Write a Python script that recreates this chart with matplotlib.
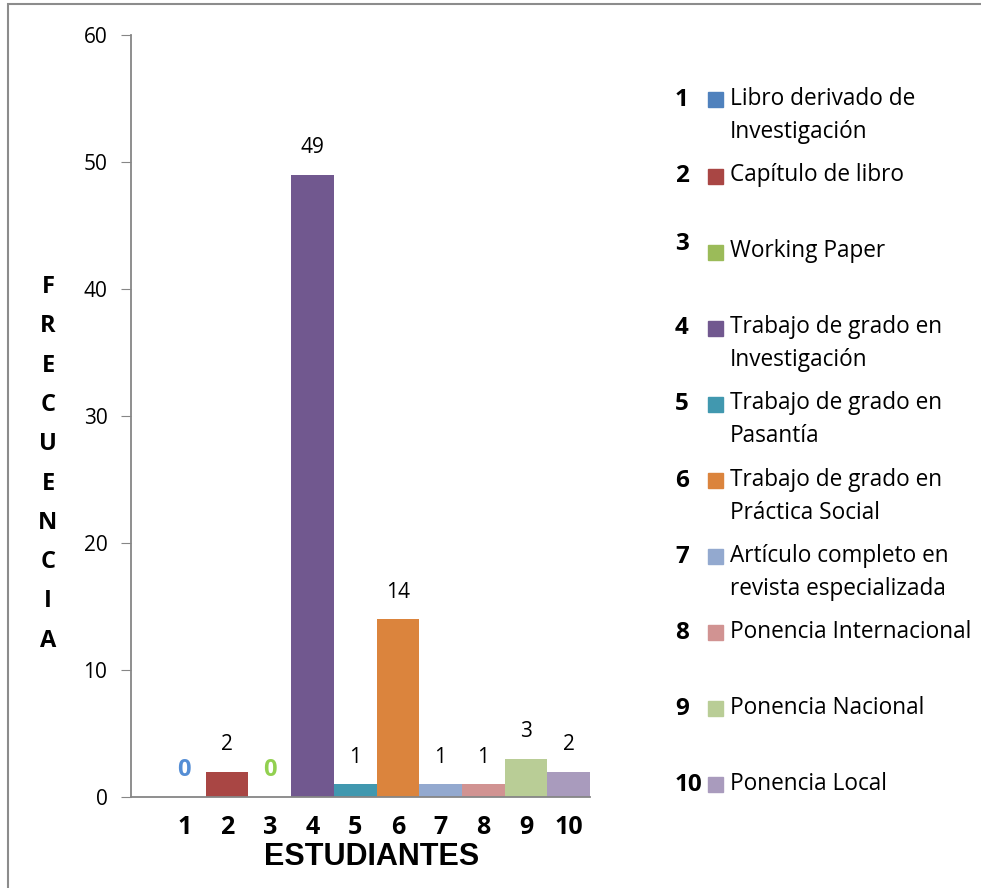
import matplotlib.pyplot as plt
from matplotlib.patches import Rectangle


# Data
categories = ["1", "2", "3", "4", "5", "6", "7", "8", "9", "10"]
values = [0, 2, 0, 49, 1, 14, 1, 1, 3, 2]
legend_labels = [
    "Libro derivado de\nInvestigación",
    "Capítulo de libro",
    "Working Paper",
    "Trabajo de grado en\nInvestigación",
    "Trabajo de grado en\nPasantía",
    "Trabajo de grado en\nPráctica Social",
    "Artículo completo en\nrevista especializada",
    "Ponencia Internacional",
    "Ponencia Nacional",
    "Ponencia Local",
]
bar_colors = [
    "#4F81BD", "#A94644", "#9BBB59", "#71588F", "#4198AF",
    "#DB843D", "#93A9CF", "#D19392", "#B9CD96", "#A99BBD",
]
# colour of the "0" labels for empty bars
zero_label_colors = {0: "#558ED5", 2: "#92D050"}

W, H = 981, 888
BODY_FONT = "Open Sans"


def fx(px):
    return px / W


def fy(py):
    return 1 - py / H


def main():
    fig = plt.figure(figsize=(W / 100, H / 100), dpi=100)

    # outer chart border (only left and top visible)
    fig.patches.append(Rectangle((fx(8), fy(H + 20)), 1.2, fy(4) - fy(H + 20),
                                 transform=fig.transFigure, fill=False,
                                 edgecolor="#8C8C8C", linewidth=1.5))

    ax = fig.add_axes([fx(131), fy(797), fx(590) - fx(131), fy(35) - fy(797)])

    positions = list(range(1, len(values) + 1))
    ax.bar(positions, values, width=1.0, color=bar_colors)

    ax.set_xlim(-0.25, 10.5)
    ax.set_ylim(0, 60)
    ax.set_yticks(range(0, 61, 10))
    ax.set_xticks(positions)
    ax.set_xticklabels(categories, fontsize=18, fontweight="bold",
                       family=BODY_FONT)
    ax.tick_params(axis="x", length=0, pad=13)
    ax.tick_params(axis="y", length=7, color="#868686", pad=10,
                   labelsize=15)
    for lbl in ax.get_yticklabels():
        lbl.set_family(BODY_FONT)

    for side in ["top", "right"]:
        ax.spines[side].set_visible(False)
    for side in ["left", "bottom"]:
        ax.spines[side].set_color("#868686")
        ax.spines[side].set_linewidth(1.3)

    # value labels
    for i, (pos, val) in enumerate(zip(positions, values)):
        if val == 0:
            ax.annotate("0", (pos, val), xytext=(0, 27), textcoords="offset pixels",
                        ha="center", va="center", fontsize=17, fontweight="bold",
                        color=zero_label_colors.get(i, "black"), family=BODY_FONT)
        else:
            ax.annotate(str(val), (pos, val), xytext=(0, 27),
                        textcoords="offset pixels", ha="center", va="center",
                        fontsize=15, color="black", family=BODY_FONT)

    # x axis title
    fig.text(fx(372), fy(857), "ESTUDIANTES", ha="center", va="center",
             fontsize=22, fontweight="bold", family="Liberation Sans")

    # y axis title, one letter per line
    for k, letter in enumerate("FRECUENCIA"):
        fig.text(fx(48), fy(287 + k * 39.3), letter, ha="center", va="center",
                 fontsize=17, fontweight="bold", family=BODY_FONT)

    # custom legend
    for k, (num, label, color) in enumerate(zip(categories, legend_labels, bar_colors)):
        y = 100 + k * 76.1
        num_y = y - 8 if k == 2 else y
        fig.text(fx(675), fy(num_y), num, ha="left", va="center",
                 fontsize=17.5, fontweight="bold", family=BODY_FONT)
        fig.patches.append(Rectangle((fx(708), fy(y + 7.5)), fx(15), 15 / H,
                                     transform=fig.transFigure, color=color))
        fig.text(fx(730), fy(y - 13), label, ha="left", va="top",
                 fontsize=16.3, family=BODY_FONT, linespacing=1.5)

    fig.savefig("out.png", dpi=100)


if __name__ == "__main__":
    main()
